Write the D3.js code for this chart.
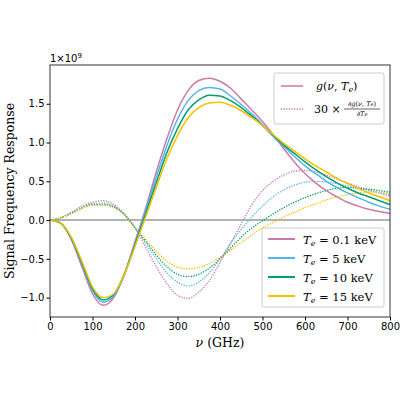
<!DOCTYPE html><html><head><meta charset="utf-8"><script src="https://cdn.jsdelivr.net/npm/d3@7"></script>
<style>body{margin:0;background:#fff}</style></head><body><svg id="c" width="400" height="400" font-family="DejaVu Sans"></svg><script>
const nu=[0,25,50,75,100,125,150,175,200,225,250,275,300,325,350,375,400,425,450,475,500,525,550,575,600,625,650,675,700,725,750,775,800];
const labels=["0.1","5","10","15"];
const colors=["#cc79a7","#56b4e9","#009e73","#f5c000"];
const g01=[0,-0.04,-0.25,-0.6,-0.95,-1.1,-1.0,-0.7,-0.28,0.15,0.62,1.05,1.42,1.67,1.8,1.83,1.79,1.7,1.56,1.42,1.27,1.1,0.92,0.75,0.6,0.48,0.38,0.3,0.23,0.18,0.14,0.11,0.085];
const g5=[0,-0.04,-0.24,-0.57,-0.91,-1.06,-0.98,-0.7,-0.3,0.12,0.55,0.96,1.3,1.54,1.67,1.71,1.69,1.6,1.49,1.37,1.23,1.08,0.95,0.82,0.7,0.6,0.5,0.42,0.35,0.29,0.23,0.18,0.14];
const g10=[0,-0.04,-0.23,-0.55,-0.88,-1.03,-0.96,-0.7,-0.32,0.08,0.48,0.87,1.18,1.42,1.55,1.61,1.6,1.54,1.45,1.34,1.22,1.09,0.97,0.86,0.75,0.65,0.56,0.48,0.41,0.35,0.3,0.25,0.2];
const g15=[0,-0.04,-0.22,-0.53,-0.86,-1.0,-0.95,-0.7,-0.34,0.04,0.42,0.79,1.09,1.32,1.45,1.51,1.52,1.48,1.41,1.32,1.22,1.1,0.99,0.89,0.79,0.7,0.62,0.54,0.47,0.41,0.35,0.3,0.25];
const d01=[0,0.03,0.1,0.18,0.23,0.25,0.2,0.08,-0.1,-0.35,-0.6,-0.82,-0.97,-1.01,-0.93,-0.78,-0.55,-0.3,-0.05,0.2,0.38,0.5,0.58,0.63,0.64,0.62,0.58,0.53,0.48,0.43,0.39,0.35,0.31];
const d5=[0,0.03,0.09,0.16,0.21,0.22,0.18,0.07,-0.1,-0.3,-0.5,-0.68,-0.8,-0.85,-0.8,-0.68,-0.5,-0.3,-0.12,0.04,0.18,0.3,0.39,0.45,0.49,0.5,0.49,0.47,0.44,0.41,0.38,0.35,0.33];
const d10=[0,0.03,0.09,0.15,0.2,0.2,0.17,0.07,-0.1,-0.27,-0.45,-0.6,-0.7,-0.73,-0.7,-0.62,-0.5,-0.36,-0.22,-0.1,-0.01,0.08,0.16,0.23,0.29,0.34,0.38,0.41,0.42,0.41,0.4,0.38,0.36];
const d15=[0,0.03,0.08,0.15,0.19,0.19,0.16,0.07,-0.1,-0.25,-0.4,-0.53,-0.61,-0.63,-0.61,-0.56,-0.48,-0.39,-0.29,-0.19,-0.1,-0.03,0.04,0.1,0.16,0.21,0.26,0.3,0.33,0.35,0.36,0.36,0.35];
const xTicks=[0,100,200,300,400,500,600,700,800];
const yTicks=[-1.0,-0.5,0.0,0.5,1.0,1.5];
const G=[g01,g5,g10,g15],D=[d01,d5,d10,d15];
const svg=d3.select("#c");
const L=50,R=390,T=65,B=317;
const SERIF="DejaVu Serif";
const x=d3.scaleLinear().domain([0,800]).range([L,R]);
const y=d3.scaleLinear().domain([-1.25,2.0]).range([B,T]);
svg.append("line").attr("x1",L).attr("x2",R).attr("y1",y(0)).attr("y2",y(0)).attr("stroke","#999").attr("stroke-width",1.5);
const line=d3.line().x((d,i)=>x(nu[i])).y(d=>y(d)).curve(d3.curveMonotoneX);
D.forEach((s,k)=>svg.append("path").attr("d",line(s)).attr("fill","none").attr("stroke",colors[k]).attr("stroke-width",1.3).attr("stroke-dasharray","1.3,1.3"));
G.forEach((s,k)=>svg.append("path").attr("d",line(s)).attr("fill","none").attr("stroke",colors[k]).attr("stroke-width",1.5));
const ax=svg.append("g").attr("transform",`translate(0,${B})`).call(d3.axisBottom(x).tickValues(xTicks).tickSize(3.5).tickPadding(2));
const ay=svg.append("g").attr("transform",`translate(${L},0)`).call(d3.axisLeft(y).tickValues(yTicks).tickFormat(d3.format(".1f")).tickSize(3.5).tickPadding(2));
[ax,ay].forEach(a=>{a.selectAll("text").attr("font-size",10).attr("font-family","DejaVu Sans").attr("fill","#000");a.select(".domain").remove();});
ay.selectAll("text").text(d=>d3.format(".1f")(d).replace("-","\u2212"));
svg.append("rect").attr("x",L).attr("y",T).attr("width",R-L).attr("height",B-T).attr("fill","none").attr("stroke","#000").attr("stroke-width",0.8);
svg.append("text").attr("x",L).attr("y",T-3).attr("font-size",10).text("1×10").append("tspan").attr("dy",-4).attr("font-size",7).text("9");
svg.append("text").attr("x",220).attr("y",347).attr("text-anchor","middle").attr("font-family",SERIF).attr("font-size",12.5).html('<tspan font-style="italic">ν</tspan> (GHz)');
svg.append("text").attr("transform","translate(14,191) rotate(-90)").attr("text-anchor","middle").attr("font-family",SERIF).attr("font-size",12.5).text("Signal Frequency Response");
svg.append("rect").attr("x",274).attr("y",73).attr("width",110).attr("height",51).attr("rx",2).attr("fill","#fff").attr("fill-opacity",0.8).attr("stroke","#ccc");
svg.append("line").attr("x1",281).attr("x2",303).attr("y1",86).attr("y2",86).attr("stroke",colors[0]).attr("stroke-width",1.5);
svg.append("line").attr("x1",281).attr("x2",303).attr("y1",109).attr("y2",109).attr("stroke",colors[0]).attr("stroke-width",1.3).attr("stroke-dasharray","1.3,1.3");
svg.append("text").attr("x",316).attr("y",90).attr("font-family",SERIF).attr("font-size",11).html('<tspan font-style="italic">g</tspan>(<tspan font-style="italic">ν</tspan>, <tspan font-style="italic">T</tspan><tspan font-style="italic" font-size="8" dy="2">e</tspan><tspan dy="-2">)</tspan>');
svg.append("text").attr("x",314).attr("y",113).attr("font-family",SERIF).attr("font-size",11).text("30 ×");
svg.append("text").attr("x",362).attr("y",106).attr("text-anchor","middle").attr("font-family",SERIF).attr("font-size",6.5).html('∂<tspan font-style="italic">g</tspan>(<tspan font-style="italic">ν</tspan>, <tspan font-style="italic">T</tspan><tspan font-style="italic" font-size="5">e</tspan>)');
svg.append("line").attr("x1",344).attr("x2",380).attr("y1",109).attr("y2",109).attr("stroke","#000").attr("stroke-width",0.6);
svg.append("text").attr("x",362).attr("y",116).attr("text-anchor","middle").attr("font-family",SERIF).attr("font-size",6.5).html('∂<tspan font-style="italic">T</tspan><tspan font-style="italic" font-size="5">e</tspan>');
svg.append("rect").attr("x",262).attr("y",228).attr("width",122).attr("height",79).attr("rx",2).attr("fill","#fff").attr("fill-opacity",0.8).attr("stroke","#ccc");
labels.forEach((l,k)=>{const yy=239+k*19;
svg.append("line").attr("x1",268).attr("x2",295).attr("y1",yy).attr("y2",yy).attr("stroke",colors[k]).attr("stroke-width",2);
svg.append("text").attr("x",303).attr("y",yy+4.5).attr("font-family",SERIF).attr("font-size",11.5).html(`<tspan font-style="italic">T</tspan><tspan font-style="italic" font-size="8" dy="2">e</tspan><tspan dy="-2"> = ${l} keV</tspan>`);});
</script></body></html>
